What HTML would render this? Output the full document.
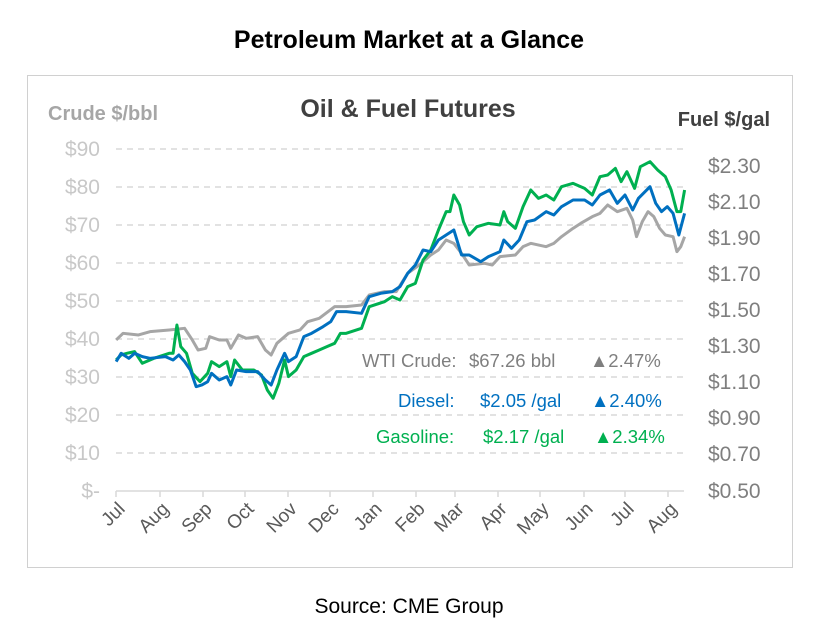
<!DOCTYPE html>
<html><head><style>
body{margin:0;width:819px;height:637px;background:#fff;font-family:"Liberation Sans",sans-serif;position:relative;overflow:hidden}
</style></head><body>
<svg width="819" height="637" style="position:absolute;left:0;top:0" font-family="Liberation Sans, sans-serif">
<text x="409" y="48" text-anchor="middle" font-size="25" font-weight="bold" fill="#000">Petroleum Market at a Glance</text>
<rect x="27.5" y="75.5" width="765" height="492" fill="none" stroke="#d0d0d0"/>
<text x="48" y="120" font-size="20" font-weight="bold" fill="#a6a6a6">Crude $/bbl</text>
<text x="408" y="117" text-anchor="middle" font-size="25" font-weight="bold" fill="#404040">Oil &amp; Fuel Futures</text>
<text x="770" y="126" text-anchor="end" font-size="20" font-weight="bold" fill="#404040">Fuel $/gal</text>
<g stroke="#d9d9d9" stroke-width="1.5" stroke-dasharray="6,5">
<line x1="116" x2="684" y1="149" y2="149"/><line x1="116" x2="684" y1="187" y2="187"/><line x1="116" x2="684" y1="225" y2="225"/><line x1="116" x2="684" y1="263" y2="263"/><line x1="116" x2="684" y1="301" y2="301"/><line x1="116" x2="684" y1="339" y2="339"/><line x1="116" x2="684" y1="377" y2="377"/><line x1="116" x2="684" y1="415" y2="415"/><line x1="116" x2="684" y1="453" y2="453"/>
</g>
<line x1="116" x2="684" y1="491" y2="491" stroke="#d9d9d9" stroke-width="1.5"/>
<g stroke="#d9d9d9" stroke-width="1.5">
<line x1="116" x2="116" y1="491" y2="497"/><line x1="160" x2="160" y1="491" y2="497"/><line x1="203" x2="203" y1="491" y2="497"/><line x1="245" x2="245" y1="491" y2="497"/><line x1="288" x2="288" y1="491" y2="497"/><line x1="330" x2="330" y1="491" y2="497"/><line x1="373" x2="373" y1="491" y2="497"/><line x1="416" x2="416" y1="491" y2="497"/><line x1="455" x2="455" y1="491" y2="497"/><line x1="498" x2="498" y1="491" y2="497"/><line x1="540" x2="540" y1="491" y2="497"/><line x1="584" x2="584" y1="491" y2="497"/><line x1="625" x2="625" y1="491" y2="497"/><line x1="668" x2="668" y1="491" y2="497"/>
</g>
<g font-size="21" fill="#c8c8c8" text-anchor="end">
<text x="100" y="156">$90</text><text x="100" y="194">$80</text><text x="100" y="232">$70</text><text x="100" y="270">$60</text><text x="100" y="308">$50</text><text x="100" y="346">$40</text><text x="100" y="384">$30</text><text x="100" y="422">$20</text><text x="100" y="460">$10</text><text x="100" y="498">$-</text>
</g>
<g font-size="21" fill="#7f7f7f">
<text x="708" y="173">$2.30</text><text x="708" y="209">$2.10</text><text x="708" y="245">$1.90</text><text x="708" y="281">$1.70</text><text x="708" y="317">$1.50</text><text x="708" y="353">$1.30</text><text x="708" y="389">$1.10</text><text x="708" y="425">$0.90</text><text x="708" y="461">$0.70</text><text x="708" y="498">$0.50</text>
</g>
<g font-size="19" fill="#595959" text-anchor="end">
<text transform="translate(126,510) rotate(-45)">Jul</text>
<text transform="translate(170,510) rotate(-45)">Aug</text>
<text transform="translate(213,510) rotate(-45)">Sep</text>
<text transform="translate(255,510) rotate(-45)">Oct</text>
<text transform="translate(298,510) rotate(-45)">Nov</text>
<text transform="translate(340,510) rotate(-45)">Dec</text>
<text transform="translate(383,510) rotate(-45)">Jan</text>
<text transform="translate(426,510) rotate(-45)">Feb</text>
<text transform="translate(465,510) rotate(-45)">Mar</text>
<text transform="translate(508,510) rotate(-45)">Apr</text>
<text transform="translate(550,510) rotate(-45)">May</text>
<text transform="translate(594,510) rotate(-45)">Jun</text>
<text transform="translate(635,510) rotate(-45)">Jul</text>
<text transform="translate(678,510) rotate(-45)">Aug</text>
</g>
<g transform="translate(100,140) scale(0.3846,0.3333)" fill="none" stroke-width="3" stroke-linejoin="round">
<polyline vector-effect="non-scaling-stroke" stroke="#a6a6a6" points="42,600 60,580 100,585 130,575 180,570 220,565 240,600 255,630 275,625 285,590 310,600 330,600 340,625 360,585 380,595 410,590 430,630 445,645 460,610 490,580 520,570 540,545 570,535 610,500 640,500 680,495 700,465 740,455 770,455 800,400 830,375 860,345 880,330 900,300 920,310 940,340 960,375 1000,370 1020,375 1040,350 1080,345 1100,320 1120,310 1160,320 1180,310 1200,290 1230,265 1250,250 1280,230 1300,220 1320,195 1345,215 1370,205 1385,240 1395,290 1410,245 1425,215 1440,230 1455,265 1470,285 1490,290 1500,335 1510,320 1520,290"/>
<polyline vector-effect="non-scaling-stroke" stroke="#00b050" points="42,660 55,645 70,640 90,635 110,670 140,655 180,640 190,640 200,555 210,620 225,640 240,700 260,725 280,700 290,665 310,680 330,665 340,710 350,660 370,690 400,690 420,705 435,750 450,775 465,730 480,660 490,710 510,690 530,650 550,640 570,630 590,620 610,610 625,580 640,580 680,565 700,500 740,485 760,470 780,480 800,440 820,430 840,360 860,330 880,270 900,215 910,215 920,165 935,195 945,245 960,285 980,260 1010,250 1040,255 1050,215 1060,245 1080,265 1100,200 1120,150 1140,175 1160,165 1180,180 1200,140 1230,130 1260,145 1280,165 1300,110 1320,105 1340,85 1355,125 1370,95 1390,145 1405,80 1430,65 1450,90 1470,110 1485,150 1500,215 1510,215 1520,150"/>
<polyline vector-effect="non-scaling-stroke" stroke="#0070c0" points="42,665 55,640 75,655 90,640 110,650 130,655 170,650 190,660 205,645 220,665 235,690 250,740 265,735 280,725 290,700 310,720 330,710 340,735 355,690 380,695 410,695 430,720 445,735 460,690 480,640 490,665 510,650 530,590 550,580 580,560 600,545 615,515 640,515 680,520 700,470 730,460 760,455 780,440 800,400 820,375 840,330 860,335 880,300 900,285 920,270 940,345 960,345 990,365 1010,350 1040,335 1050,300 1070,325 1090,300 1110,245 1130,240 1160,215 1180,225 1200,200 1230,180 1260,180 1280,195 1300,165 1325,150 1345,190 1365,165 1385,210 1400,175 1430,140 1445,190 1460,215 1475,200 1490,220 1505,285 1520,220"/>
</g>
<g font-size="18.5">
<text y="367" fill="#7f7f7f"><tspan x="362">WTI Crude:</tspan><tspan x="469">$67.26 bbl</tspan><tspan x="590">▲2.47%</tspan></text>
<text y="407" fill="#0070c0"><tspan x="398">Diesel:</tspan><tspan x="480">$2.05 /gal</tspan><tspan x="591">▲2.40%</tspan></text>
<text y="443" fill="#00b050"><tspan x="376">Gasoline:</tspan><tspan x="483">$2.17 /gal</tspan><tspan x="594">▲2.34%</tspan></text>
</g>
<text x="409" y="613" text-anchor="middle" font-size="21" fill="#000">Source: CME Group</text>
</svg>
</body></html>
